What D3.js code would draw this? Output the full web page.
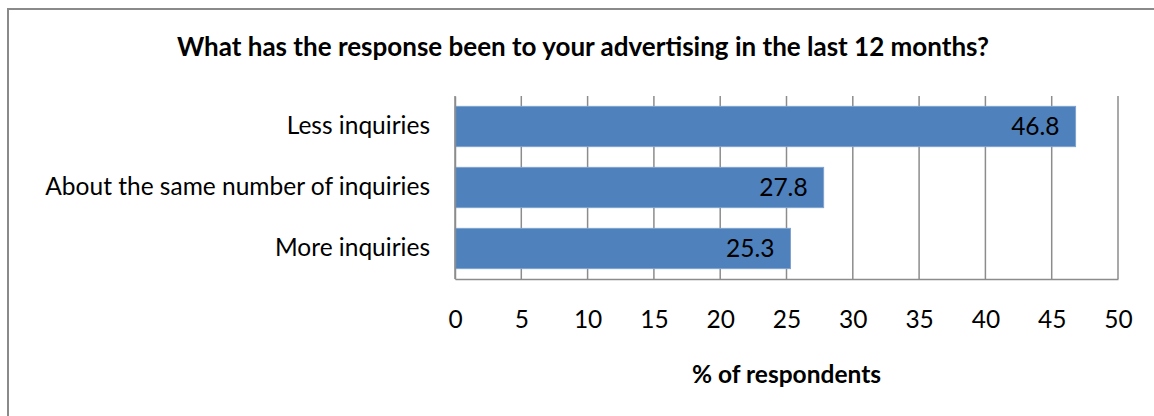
<!DOCTYPE html>
<html>
<head>
<meta charset="utf-8">
<script src="https://cdn.jsdelivr.net/npm/d3@7"></script>
<style>
  body { margin: 0; background: #fff; }
  svg text { font-family: Lato, "Open Sans", sans-serif; fill: #000; }
</style>
</head>
<body>
<div id="chart"></div>
<script>
// chart data
var categories = ["Less inquiries", "About the same number of inquiries", "More inquiries"];
var values = [46.8, 27.8, 25.3];
var xTicks = [0, 5, 10, 15, 20, 25, 30, 35, 40, 45, 50];
var chartTitle = "What has the response been to your advertising in the last 12 months?";
var xTitle = "% of respondents";

var svgWidth = 1154;
var svgHeight = 416;
var fontSize = "24.5px";

var margin = { top: 96, right: 36, bottom: 137, left: 455 };
var width = svgWidth - margin.left - margin.right;
var height = svgHeight - margin.top - margin.bottom;

var svg = d3.select("#chart")
    .append("svg")
    .attr("width", svgWidth)
    .attr("height", svgHeight);

// outer frame (only left and top visible in the picture)
svg.append("path")
    .attr("d", "M8,416 L8,9 L1154,9")
    .attr("fill", "none")
    .attr("stroke", "#8a8a8a")
    .attr("stroke-width", 2);

var chartGroup = svg.append("g")
    .attr("transform", `translate(${margin.left}, ${margin.top})`);

var xScale = d3.scaleLinear()
    .domain([0, 50])
    .range([0, width]);

var yScale = d3.scaleBand()
    .domain(categories)
    .range([0, height])
    .paddingInner(0.34)
    .paddingOuter(0.17);

// vertical gridlines
chartGroup.selectAll(".grid")
    .data(xTicks)
    .enter()
    .append("line")
    .attr("class", "grid")
    .attr("x1", d => xScale(d))
    .attr("x2", d => xScale(d))
    .attr("y1", 0)
    .attr("y2", height)
    .attr("stroke", "#8c8c8c")
    .attr("stroke-width", 1.5);

// bars
chartGroup.selectAll(".bar")
    .data(values)
    .enter()
    .append("rect")
    .attr("class", "bar")
    .attr("x", xScale(0))
    .attr("y", (d, i) => yScale(categories[i]))
    .attr("width", d => xScale(d))
    .attr("height", yScale.bandwidth())
    .attr("fill", "#4f81bd")
    .attr("stroke", "#7fa2cf")
    .attr("stroke-width", 1);

// value labels inside the bar end
chartGroup.selectAll(".val")
    .data(values)
    .enter()
    .append("text")
    .attr("class", "val")
    .attr("x", d => xScale(d) - 16)
    .attr("y", (d, i) => yScale(categories[i]) + yScale.bandwidth() / 2)
    .attr("dy", "0.36em")
    .attr("text-anchor", "end")
    .style("font-size", fontSize)
    .text(d => d.toFixed(1));

// x axis: line, no tick marks, labels well below
var xAxis = chartGroup.append("g")
    .attr("transform", `translate(0, ${height})`)
    .call(d3.axisBottom(xScale).tickValues(xTicks).tickSize(0).tickPadding(32));
xAxis.select(".domain").attr("stroke", "#8c8c8c").attr("stroke-width", 1.5);
xAxis.selectAll("text")
    .style("font-size", fontSize)
    .style("font-family", "Lato, 'Open Sans', sans-serif")
    .attr("fill", "#000");

// y axis
var yAxis = chartGroup.append("g")
    .call(d3.axisLeft(yScale).tickSize(0).tickPadding(25));
yAxis.select(".domain").attr("stroke", "#8c8c8c").attr("stroke-width", 1.5);
yAxis.selectAll("text")
    .style("font-size", fontSize)
    .style("font-family", "Lato, 'Open Sans', sans-serif")
    .attr("fill", "#000");

// titles
svg.append("text")
    .attr("x", 583)
    .attr("y", 47)
    .attr("dy", "0.36em")
    .attr("text-anchor", "middle")
    .style("font-size", "26px")
    .style("font-weight", "bold")
    .text(chartTitle);

svg.append("text")
    .attr("x", margin.left + width / 2)
    .attr("y", 374)
    .attr("dy", "0.36em")
    .attr("text-anchor", "middle")
    .style("font-size", "24.5px")
    .style("font-weight", "bold")
    .text(xTitle);
</script>
</body>
</html>
